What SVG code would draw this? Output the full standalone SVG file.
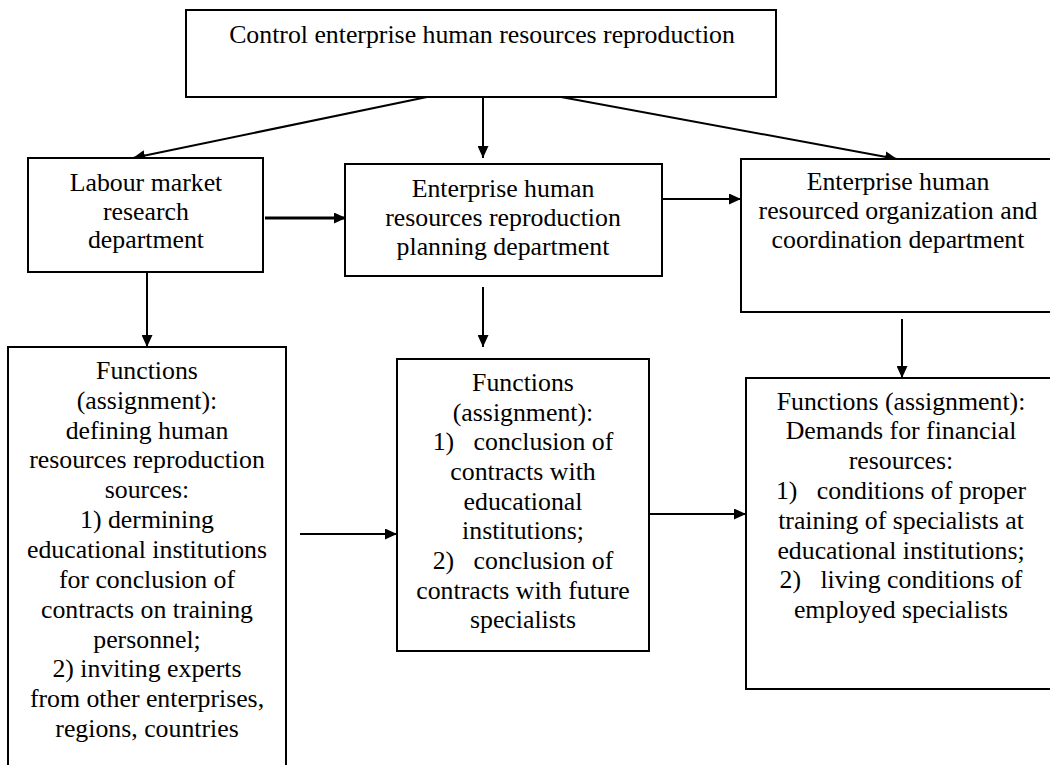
<svg xmlns="http://www.w3.org/2000/svg" width="1050" height="765" viewBox="0 0 1050 765">
<defs>
<style>
.box{fill:#fff;stroke:#000;stroke-width:2}
.t{font-family:"Liberation Serif","Times New Roman",serif;font-size:25.8px;fill:#000;text-anchor:middle}
.pre{white-space:pre}
.c{stroke:#000;stroke-width:2;fill:none}
.thick{stroke-width:3}
</style>
<marker id="ah" markerUnits="userSpaceOnUse" markerWidth="13" markerHeight="11" refX="12" refY="5.5" orient="auto">
<path d="M0,0 L12,5.5 L0,11 z" fill="#000"/>
</marker>
</defs>
<rect width="1050" height="765" fill="#fff"/>
<g id="connectors">
<line class="c" x1="427" y1="97" x2="133" y2="158" marker-end="url(#ah)"/>
<line class="c" x1="483" y1="97" x2="483" y2="158" marker-end="url(#ah)"/>
<line class="c" x1="561" y1="97" x2="897" y2="159" marker-end="url(#ah)"/>
<line class="c thick" x1="265" y1="218" x2="346" y2="218" marker-end="url(#ah)"/>
<line class="c" x1="663" y1="199" x2="741" y2="199" marker-end="url(#ah)"/>
<line class="c" x1="147" y1="266" x2="147" y2="347" marker-end="url(#ah)"/>
<line class="c" x1="483" y1="287" x2="483" y2="347" marker-end="url(#ah)"/>
<line class="c" x1="902" y1="319" x2="902" y2="378" marker-end="url(#ah)"/>
<line class="c" x1="300" y1="534" x2="397" y2="534" marker-end="url(#ah)"/>
<line class="c" x1="650" y1="514" x2="746" y2="514" marker-end="url(#ah)"/>
</g>
<g id="top">
<rect class="box" x="186" y="10" width="590" height="87"/>
<text class="t" x="482" y="43">Control enterprise human resources reproduction</text>
</g>
<g id="labour">
<rect class="box" x="28" y="158" width="235" height="114"/>
<text class="t" x="146"><tspan x="146" y="191">Labour market</tspan><tspan x="146" y="220">research</tspan><tspan x="146" y="248">department</tspan></text>
</g>
<g id="planning">
<rect class="box" x="345" y="164" width="317" height="112"/>
<text class="t" x="503"><tspan x="503" y="197">Enterprise human</tspan><tspan x="503" y="226">resources reproduction</tspan><tspan x="503" y="255">planning department</tspan></text>
</g>
<g id="organization">
<rect class="box" x="741" y="159" width="330" height="153"/>
<text class="t" x="898"><tspan x="898" y="190">Enterprise human</tspan><tspan x="898" y="219">resourced organization and</tspan><tspan x="898" y="248">coordination department</tspan></text>
</g>
<g id="functions-left">
<rect class="box" x="8" y="347" width="278" height="440"/>
<text class="t" x="147"><tspan x="147" y="379">Functions</tspan><tspan x="147" y="409">(assignment):</tspan><tspan x="147" y="439">defining human</tspan><tspan x="147" y="468">resources reproduction</tspan><tspan x="147" y="498">sources:</tspan><tspan x="147" y="528">1) dermining</tspan><tspan x="147" y="558">educational institutions</tspan><tspan x="147" y="588">for conclusion of</tspan><tspan x="147" y="618">contracts on training</tspan><tspan x="147" y="648">personnel;</tspan><tspan x="147" y="677">2) inviting experts</tspan><tspan x="147" y="707">from other enterprises,</tspan><tspan x="147" y="737">regions, countries</tspan></text>
</g>
<g id="functions-middle">
<rect class="box" x="397" y="359" width="252" height="292"/>
<text class="t pre" x="523" xml:space="preserve"><tspan x="523" y="391">Functions</tspan><tspan x="523" y="421">(assignment):</tspan><tspan x="523" y="450">1)   conclusion of</tspan><tspan x="523" y="480">contracts with</tspan><tspan x="523" y="510">educational</tspan><tspan x="523" y="539">institutions;</tspan><tspan x="523" y="569">2)   conclusion of</tspan><tspan x="523" y="599">contracts with future</tspan><tspan x="523" y="628">specialists</tspan></text>
</g>
<g id="functions-right">
<rect class="box" x="746" y="378" width="330" height="311"/>
<text class="t pre" x="901" xml:space="preserve"><tspan x="901" y="410">Functions (assignment):</tspan><tspan x="901" y="439">Demands for financial</tspan><tspan x="901" y="469">resources:</tspan><tspan x="901" y="499">1)   conditions of proper</tspan><tspan x="901" y="529">training of specialists at</tspan><tspan x="901" y="559">educational institutions;</tspan><tspan x="901" y="588">2)   living conditions of</tspan><tspan x="901" y="618">employed specialists</tspan></text>
</g>
</svg>
